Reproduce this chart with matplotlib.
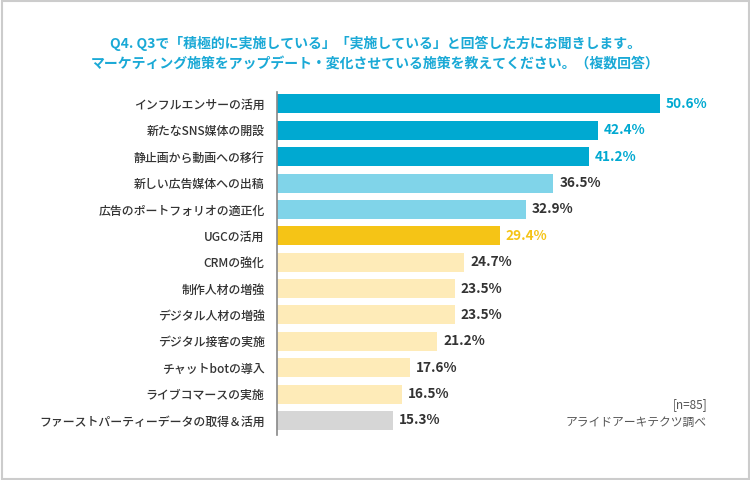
import matplotlib
matplotlib.use("Agg")
import matplotlib.pyplot as plt
from matplotlib.patches import Rectangle

plt.rcParams['font.family'] = ['Noto Sans CJK JP', 'DejaVu Sans']

categories = ["インフルエンサーの活用", "新たなSNS媒体の開設", "静止画から動画への移行",
              "新しい広告媒体への出稿", "広告のポートフォリオの適正化", "UGCの活用",
              "CRMの強化", "制作人材の増強", "デジタル人材の増強", "デジタル接客の実施",
              "チャットbotの導入", "ライブコマースの実施", "ファーストパーティーデータの取得＆活用"]
values = [50.6, 42.4, 41.2, 36.5, 32.9, 29.4, 24.7, 23.5, 23.5, 21.2, 17.6, 16.5, 15.3]
bar_colors = ["#00A9D1"] * 3 + ["#80D4E9"] * 2 + ["#F5C416"] + ["#FEEBB8"] * 6 + ["#D6D6D6"]
label_colors = ["#00A9D1"] * 3 + ["#333333"] * 2 + ["#F5C416"] + ["#333333"] * 7

title = "Q4. Q3で「積極的に実施している」「実施している」と回答した方にお聞きします。\nマーケティング施策をアップデート・変化させている施策を教えてください。（複数回答）"

fig = plt.figure(figsize=(7.5, 4.8), dpi=100)
fig.patches.append(Rectangle((0.002, 0.002), 0.996, 0.996, transform=fig.transFigure,
                             fill=False, edgecolor="#CCCCCC", linewidth=1.5))

ax = fig.add_axes([277/750, 1-435/480, (720-277)/750, (435-92)/480])
y = list(range(len(categories)))
ax.barh(y, values, height=0.72, color=bar_colors)
ax.set_ylim(12.55, -0.45)
ax.set_xlim(0, (720-277)/7.57)
ax.set_yticks(y)
ax.set_yticklabels(categories, fontsize=8.6, color="#333333", fontweight="medium")
ax.tick_params(axis='y', length=0, pad=9)
ax.set_xticks([])
for s in ["top", "right", "bottom"]:
    ax.spines[s].set_visible(False)
ax.spines["left"].set_color("#888888")
ax.spines["left"].set_linewidth(1.2)

for yi, v, c in zip(y, values, label_colors):
    ax.text(v + 0.8, yi, f"{v:.1f}%", va="center", ha="left", fontsize=9.8,
            fontweight="bold", color=c)

fig.text(0.5, 1-54/480, title, ha="center", va="center", fontsize=10,
         fontweight="bold", color="#1AA9D6", linespacing=1.6)

fig.text(707/750, 1-405/480, "[n=85]", ha="right", va="center", fontsize=8.5, color="#555555")
fig.text(707/750, 1-422/480, "アライドアーキテクツ調べ", ha="right", va="center", fontsize=8.5, color="#555555")

fig.savefig("out.png", dpi=100)
